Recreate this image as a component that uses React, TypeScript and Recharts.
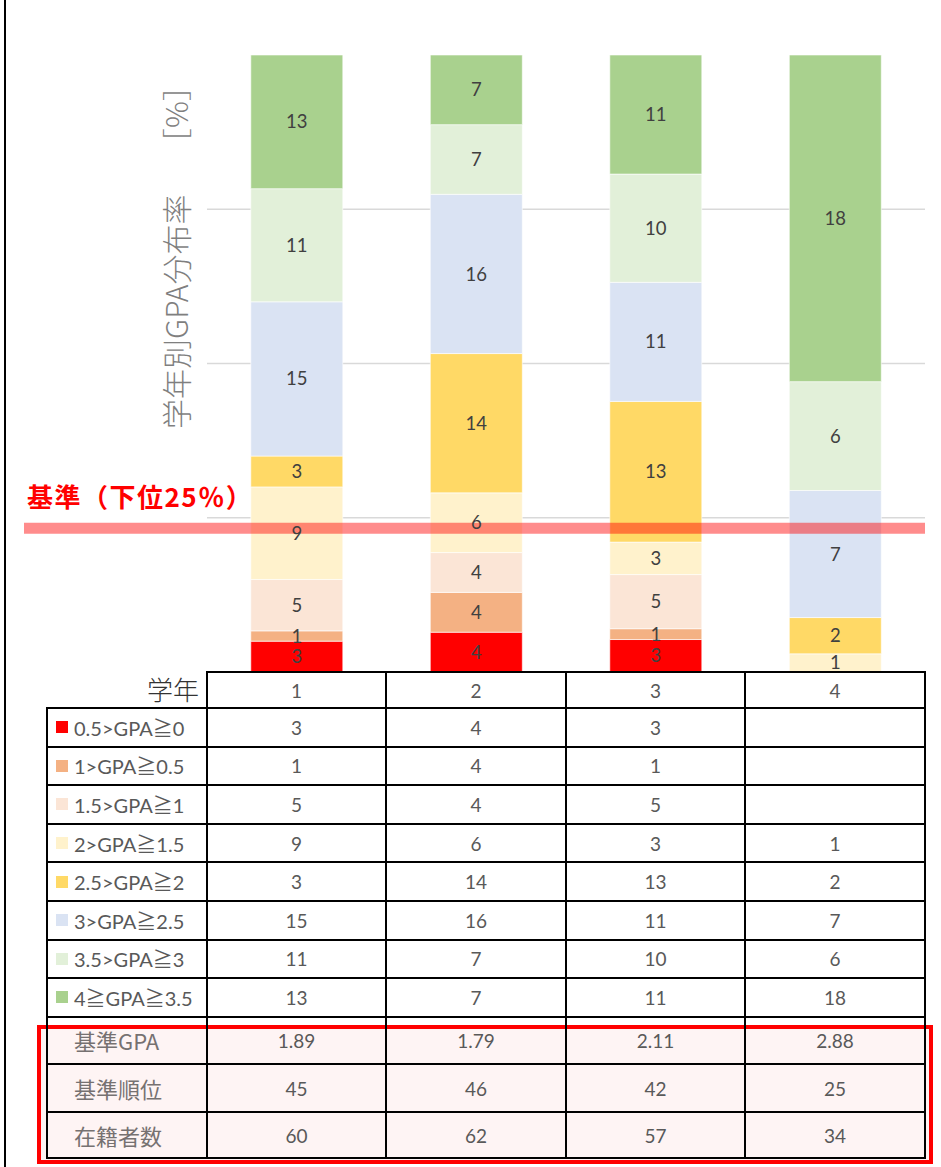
import { BarChart, Bar, XAxis, YAxis, CartesianGrid, ReferenceLine, LabelList } from 'recharts';

const years = ['1', '2', '3', '4'];
const gpaBands = ['0.5>GPA≧0', '1>GPA≧0.5', '1.5>GPA≧1', '2>GPA≧1.5', '2.5>GPA≧2', '3>GPA≧2.5', '3.5>GPA≧3', '4≧GPA≧3.5'];
const bandColors = ['#FF0000', '#F4B183', '#FBE5D6', '#FFF2CC', '#FFD966', '#DAE3F3', '#E2F0D9', '#A9D18E'];

// counts per GPA band, one value per year (null = no students)
const band0 = [3, 4, 3, null];
const band1 = [1, 4, 1, null];
const band2 = [5, 4, 5, null];
const band3 = [9, 6, 3, 1];
const band4 = [3, 14, 13, 2];
const band5 = [15, 16, 11, 7];
const band6 = [11, 7, 10, 6];
const band7 = [13, 7, 11, 18];
const bandValues = [band0, band1, band2, band3, band4, band5, band6, band7];

const baseGpa = ['1.89', '1.79', '2.11', '2.88'];
const baseRank = [45, 46, 42, 25];
const enrolled = [60, 62, 57, 34];
const thresholdShare = 0.233;

const gridTicks = [0.25, 0.5, 0.75];

const data = years.map((year, i) => {
    const row: Record<string, string | number | null> = { year };
    bandValues.forEach((vals, k) => {
        if (vals[i] !== null) row['b' + k] = vals[i];
    });
    return row;
});

const FONT = 'Lato, "Noto Sans CJK JP", sans-serif';
const JP = '"Noto Sans CJK JP", sans-serif';

// table geometry
const colEdges = [47, 207, 386, 566, 745, 925];
const headTop = 672;
const headBottom = 708;
const rowH = 38.6;
const legendBottom = headBottom + rowH * gpaBands.length;
const extraEdges = [legendBottom, 1064, 1112, 1158];

const ThresholdShape = (p: any) => (
    <g>
        <line x1={24} x2={p.x2} y1={p.y1} y2={p.y2} stroke="#FF0000" strokeOpacity={0.45} strokeWidth={11} />
        <text x={27} y={p.y1 - 21} fill="#FF0000" fontSize={26} fontWeight="bold" fontFamily={JP} letterSpacing={1.5}>
            基準（下位25％）
        </text>
    </g>
);

function Cell({ x1, x2, y1, y2, children, align = 'center', style = {} }: any) {
    return (
        <div
            style={{
                position: 'absolute',
                left: x1,
                top: y1,
                width: x2 - x1,
                height: y2 - y1,
                display: 'flex',
                alignItems: 'center',
                justifyContent: align,
                fontFamily: FONT,
                fontSize: 19,
                color: '#595959',
                whiteSpace: 'nowrap',
                ...style,
            }}
        >
            {children}
        </div>
    );
}

function HLine({ x1, x2, y, color = '#000', w = 2 }: any) {
    return <div style={{ position: 'absolute', left: x1 - w / 2, top: y - w / 2, width: x2 - x1 + w, height: w, background: color }} />;
}
function VLine({ x, y1, y2, color = '#000', w = 2 }: any) {
    return <div style={{ position: 'absolute', left: x - w / 2, top: y1 - w / 2, width: w, height: y2 - y1 + w, background: color }} />;
}

export default function App() {
    const extraRows = [
        { label: '基準GPA', vals: baseGpa },
        { label: '基準順位', vals: baseRank },
        { label: '在籍者数', vals: enrolled },
    ];
    const allRowEdges = [headBottom, ...gpaBands.map((_, k) => headBottom + rowH * (k + 1)), ...extraEdges.slice(1)];

    return (
        <div style={{ position: 'absolute', left: 0, top: 0, width: 941, height: 1167, background: '#fff', overflow: 'hidden' }}>
            <VLine x={5} y1={0} y2={1167} w={2.5} />

            <BarChart
                width={941}
                height={680}
                data={data}
                stackOffset="expand"
                barCategoryGap="24.4%"
                margin={{ top: 55, right: 16, bottom: 8, left: 207 }}
                style={{ position: 'absolute', left: 0, top: 0 }}
            >
                <CartesianGrid
                    vertical={false}
                    stroke="#D9D9D9"
                    strokeWidth={1.5}
                    horizontalCoordinatesGenerator={({ offset }: any) =>
                        gridTicks.map(t => offset.top + offset.height * (1 - t))
                    }
                />
                <XAxis dataKey="year" hide />
                <YAxis type="number" domain={[0, 1]} ticks={gridTicks} hide />
                {gpaBands.map((name, k) => (
                    <Bar
                        key={name}
                        dataKey={'b' + k}
                        name={name}
                        stackId="gpa"
                        fill={bandColors[k]}
                        stroke="#FFFFFF"
                        strokeWidth={0.6}
                        isAnimationActive={false}
                    >
                        <LabelList dataKey={'b' + k} position="center" fill="#404040" fontSize={18.5} fontFamily={FONT} />
                    </Bar>
                ))}
                <ReferenceLine y={thresholdShare} shape={ThresholdShape} />
            </BarChart>

            <div
                style={{
                    position: 'absolute',
                    left: 175,
                    top: 250,
                    transform: 'translate(-50%, -50%) rotate(-90deg)',
                    whiteSpace: 'nowrap',
                    fontFamily: JP,
                    fontSize: 30,
                    color: '#7F7F7F',
                    fontWeight: 300,
                }}
            >
                学年別GPA分布率　 ［%］
            </div>

            {/* pink highlight box */}
            <div style={{ position: 'absolute', left: 37, top: 1025, width: 896, height: 139, background: '#FEF4F4', boxSizing: 'border-box', border: '4px solid #FF0000' }} />

            {/* header row */}
            <Cell x1={100} x2={199} y1={headTop - 4} y2={headBottom} align="flex-end" style={{ fontFamily: JP, fontSize: 26, color: '#333333', fontWeight: 300 }}>
                学年
            </Cell>
            {years.map((y, i) => (
                <Cell key={'h' + y} x1={colEdges[i + 1]} x2={colEdges[i + 2]} y1={headTop} y2={headBottom}>
                    {y}
                </Cell>
            ))}

            {/* GPA band rows */}
            {gpaBands.map((name, k) => {
                const y1 = headBottom + rowH * k;
                const y2 = y1 + rowH;
                return (
                    <div key={name}>
                        <Cell x1={colEdges[0]} x2={colEdges[1]} y1={y1} y2={y2} align="flex-start" style={{ fontSize: 20 }}>
                            <span style={{ display: 'inline-block', width: 12, height: 12, background: bandColors[k], marginLeft: 9, marginRight: 6 }} />
                            {name}
                        </Cell>
                        {years.map((yr, i) => (
                            <Cell key={yr} x1={colEdges[i + 1]} x2={colEdges[i + 2]} y1={y1} y2={y2}>
                                {bandValues[k][i] ?? ''}
                            </Cell>
                        ))}
                    </div>
                );
            })}

            {/* reference rows */}
            {extraRows.map((r, k) => {
                const y1 = extraEdges[k];
                const y2 = extraEdges[k + 1];
                return (
                    <div key={r.label}>
                        <Cell x1={colEdges[0]} x2={colEdges[1]} y1={y1} y2={y2} align="flex-start" style={{ fontFamily: JP, fontSize: 22, color: '#767171', paddingLeft: 27, boxSizing: 'border-box' }}>
                            {r.label}
                        </Cell>
                        {years.map((yr, i) => (
                            <Cell key={yr} x1={colEdges[i + 1]} x2={colEdges[i + 2]} y1={y1} y2={y2}>
                                {r.vals[i]}
                            </Cell>
                        ))}
                    </div>
                );
            })}

            {/* grid lines of the table */}
            <HLine x1={colEdges[1]} x2={colEdges[5]} y={headTop} />
            {allRowEdges.map((y, i) => (
                <HLine key={'r' + i} x1={colEdges[0]} x2={colEdges[5]} y={y} />
            ))}
            {colEdges.map((x, i) => (
                <VLine key={'c' + i} x={x} y1={i === 0 ? headBottom : headTop} y2={1158} />
            ))}
        </div>
    );
}
